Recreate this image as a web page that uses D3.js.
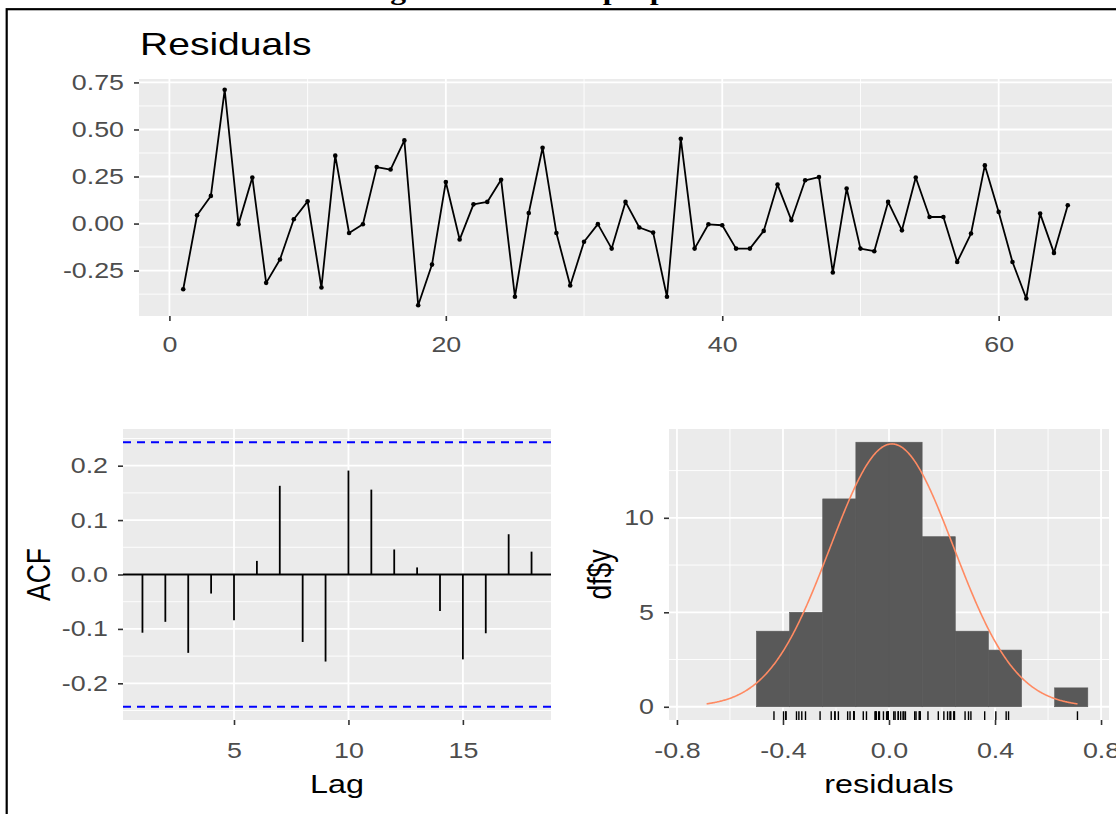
<!DOCTYPE html>
<html>
<head>
<meta charset="utf-8">
<script src="https://cdn.jsdelivr.net/npm/d3@7"></script>
<style>
  body { margin: 0; background: #fff; }
  text { font-family: "Liberation Sans", Arial, sans-serif; }
</style>
</head>
<body>
<svg width="1116" height="814"></svg>
<script>
(function() {

  // residual series, t = 1..65
  var residuals = [
    -0.349, 0.044, 0.147, 0.711, -0.003, 0.245, -0.315, -0.191, 0.023, 0.118,
    -0.340, 0.361, -0.050, -0.004, 0.300, 0.287, 0.442, -0.434, -0.218, 0.221,
    -0.085, 0.102, 0.115, 0.233, -0.389, 0.056, 0.403, -0.050, -0.329, -0.097,
    -0.003, -0.133, 0.115, -0.021, -0.048, -0.389, 0.451, -0.133, -0.004, -0.009,
    -0.133, -0.133, -0.039, 0.207, 0.018, 0.230, 0.247, -0.260, 0.186, -0.133,
    -0.147, 0.115, -0.036, 0.245, 0.035, 0.035, -0.204, -0.053, 0.309, 0.062,
    -0.204, -0.398, 0.053, -0.156, 0.097
  ];

  var acfLags = [1, 2, 3, 4, 5, 6, 7, 8, 9, 10, 11, 12, 13, 14, 15, 16, 17, 18];
  var acfValues = [
    -0.107, -0.087, -0.144, -0.035, -0.084, 0.025, 0.163, -0.124, -0.160,
    0.191, 0.156, 0.046, 0.013, -0.067, -0.156, -0.108, 0.074, 0.042
  ];

  var histBreaks = [-0.5, -0.375, -0.25, -0.125, 0, 0.125, 0.25, 0.375, 0.5, 0.625, 0.75];

  var topXTicks = [0, 20, 40, 60], topXMinor = [10, 30, 50];
  var topYTicks = [-0.25, 0, 0.25, 0.5, 0.75], topYMinor = [-0.375, -0.125, 0.125, 0.375, 0.625];
  var acfXTicks = [5, 10, 15];
  var acfYTicks = [-0.2, -0.1, 0, 0.1, 0.2], acfYMinor = [-0.25, -0.15, -0.05, 0.05, 0.15, 0.25];
  var histXTicks = [-0.8, -0.4, 0, 0.4, 0.8], histXMinor = [-0.6, -0.2, 0.2, 0.6];
  var histYTicks = [0, 5, 10], histYMinor = [2.5, 7.5, 12.5];

  var SX = 1.22;   // the picture is stretched sideways
  var n = residuals.length;

  var svg = d3.select("svg");

  // caption, cut off at the top edge (only descenders show)
  svg.append("text")
      .attr("transform", "translate(362,-0.5) scale(" + SX + ",1)")
      .attr("text-anchor", "start")
      .style("font-family", "'Liberation Serif', serif")
      .style("font-weight", "bold")
      .style("font-size", "26px")
      .text("Figure 9: Plots of proposed model");

  // frame
  svg.append("rect")
      .attr("x", 6.7).attr("y", 9.2)
      .attr("width", 1200).attr("height", 900)
      .attr("fill", "none")
      .attr("stroke", "#000")
      .attr("stroke-width", 2.2);

  function panel(x, y, xMajor, xMinor, yMajor, yMinor) {
    var g = svg.append("g");
    var x0 = x.range()[0], x1 = x.range()[1], y0 = y.range()[1], y1 = y.range()[0];
    g.append("rect")
        .attr("x", x0).attr("y", y0)
        .attr("width", x1 - x0).attr("height", y1 - y0)
        .attr("fill", "#ebebeb");
    g.selectAll(".hmin").data(yMinor).enter().append("line")
        .attr("x1", x0).attr("x2", x1)
        .attr("y1", function(d) { return y(d); }).attr("y2", function(d) { return y(d); })
        .attr("stroke", "#fff").attr("stroke-width", 0.9);
    g.selectAll(".vmin").data(xMinor).enter().append("line")
        .attr("y1", y0).attr("y2", y1)
        .attr("x1", function(d) { return x(d); }).attr("x2", function(d) { return x(d); })
        .attr("stroke", "#fff").attr("stroke-width", 0.9);
    g.selectAll(".hmaj").data(yMajor).enter().append("line")
        .attr("x1", x0).attr("x2", x1)
        .attr("y1", function(d) { return y(d); }).attr("y2", function(d) { return y(d); })
        .attr("stroke", "#fff").attr("stroke-width", 1.8);
    g.selectAll(".vmaj").data(xMajor).enter().append("line")
        .attr("y1", y0).attr("y2", y1)
        .attr("x1", function(d) { return x(d); }).attr("x2", function(d) { return x(d); })
        .attr("stroke", "#fff").attr("stroke-width", 1.8);
    return g;
  }

  function styleAxis(ax) {
    ax.select(".domain").remove();
    ax.selectAll(".tick line").attr("stroke", "#333").attr("stroke-width", 1.6);
    ax.selectAll(".tick text")
        .attr("fill", "#4d4d4d")
        .style("font-size", "22px");
  }

  function leftAxis(y, ticks, fmt, xPos) {
    var ax = svg.append("g")
        .attr("transform", "translate(" + xPos + ",0)")
        .call(d3.axisLeft(y).tickValues(ticks).tickSize(5).tickFormat(fmt));
    styleAxis(ax);
    ax.selectAll(".tick text")
        .attr("x", -15 / SX)
        .attr("transform", "scale(" + SX + ",1)");
  }

  function bottomAxis(x, ticks, fmt, yPos, off) {
    var ax = svg.append("g")
        .attr("transform", "translate(0," + yPos + ")")
        .call(d3.axisBottom(x).tickValues(ticks).tickSize(5).tickFormat(fmt));
    styleAxis(ax);
    ax.selectAll(".tick text")
        .attr("y", off)
        .attr("transform", "scale(" + SX + ",1)");
  }

  function label(txt, x, y, size, opts) {
    opts = opts || {};
    var t = svg.append("text")
        .attr("transform", "translate(" + x + "," + y + ") scale(" + SX + ",1)" + (opts.rotate ? " rotate(-90)" : ""))
        .attr("text-anchor", opts.anchor || "middle")
        .attr("fill", "#000")
        .style("font-size", size + "px")
        .text(txt);
    return t;
  }

  var f2 = function(d) { return d.toFixed(2); };
  var f1 = function(d) { return d.toFixed(1); };
  var f0 = function(d) { return String(d); };

  // ---------- top: residual series ----------
  var ext = d3.extent(residuals), pad = (ext[1] - ext[0]) * 0.05;
  var xTop = d3.scaleLinear().domain([1 - (n - 1) * 0.05, n + (n - 1) * 0.05]).range([139, 1112]);
  var yTop = d3.scaleLinear().domain([ext[0] - pad, ext[1] + pad]).range([316, 79]);

  var gTop = panel(xTop, yTop, topXTicks, topXMinor, topYTicks, topYMinor);
  var line = d3.line()
      .x(function(d, i) { return xTop(i + 1); })
      .y(function(d) { return yTop(d); });
  gTop.append("path")
      .datum(residuals)
      .attr("d", line)
      .attr("fill", "none")
      .attr("stroke", "#000")
      .attr("stroke-width", 1.8)
      .attr("stroke-linejoin", "round");
  gTop.selectAll(".pt").data(residuals).enter().append("circle")
      .attr("cx", function(d, i) { return xTop(i + 1); })
      .attr("cy", function(d) { return yTop(d); })
      .attr("r", 2.3)
      .attr("fill", "#000");

  leftAxis(yTop, topYTicks, f2, 139);
  bottomAxis(xTop, topXTicks, f0, 316, 20);
  label("Residuals", 140, 55, 32, { anchor: "start" });

  // ---------- bottom left: ACF ----------
  var ci = 1.96 / Math.sqrt(n);
  var acfLim = ci * 1.1;
  var xAcf = d3.scaleLinear().domain([1 - 17 * 0.05, 18 + 17 * 0.05]).range([123, 551]);
  var yAcf = d3.scaleLinear().domain([-acfLim, acfLim]).range([720, 429]);

  var gAcf = panel(xAcf, yAcf, acfXTicks, [], acfYTicks, acfYMinor);
  gAcf.append("line")
      .attr("x1", 123).attr("x2", 551)
      .attr("y1", yAcf(0)).attr("y2", yAcf(0))
      .attr("stroke", "#000").attr("stroke-width", 1.8);
  gAcf.selectAll(".seg").data(acfValues).enter().append("line")
      .attr("x1", function(d, i) { return xAcf(acfLags[i]); })
      .attr("x2", function(d, i) { return xAcf(acfLags[i]); })
      .attr("y1", yAcf(0))
      .attr("y2", function(d) { return yAcf(d); })
      .attr("stroke", "#000").attr("stroke-width", 1.8);
  gAcf.selectAll(".ci").data([ci, -ci]).enter().append("line")
      .attr("x1", 123).attr("x2", 551)
      .attr("y1", function(d) { return yAcf(d); })
      .attr("y2", function(d) { return yAcf(d); })
      .attr("stroke", "#0000ff").attr("stroke-width", 1.8)
      .attr("stroke-dasharray", "8,6");

  leftAxis(yAcf, acfYTicks, f1, 123);
  bottomAxis(xAcf, acfXTicks, f0, 720, 22);
  label("Lag", 337, 793, 26.5);
  label("ACF", 50, 574.5, 26.5, { rotate: true });

  // ---------- bottom right: histogram ----------
  var bins = d3.bin().domain([histBreaks[0], histBreaks[histBreaks.length - 1]])
      .thresholds(histBreaks.slice(1, -1))(residuals);
  var bw = histBreaks[1] - histBreaks[0];
  var m = d3.mean(residuals), sd = d3.deviation(residuals);
  var cMin = Math.min(m - 3 * sd, ext[0]), cMax = Math.max(m + 3 * sd, ext[1]);
  var curve = d3.range(0, 501).map(function(i) {
    var x = cMin + (cMax - cMin) * i / 500;
    var z = (x - m) / sd;
    return [x, n * bw * Math.exp(-0.5 * z * z) / (sd * Math.sqrt(2 * Math.PI))];
  });

  var xHist = d3.scaleLinear().domain([-0.83, 0.83]).range([669, 1109]);
  var yHist = d3.scaleLinear().domain([-0.7, 14.7]).range([720, 429]);

  var gHist = panel(xHist, yHist, histXTicks, histXMinor, histYTicks, histYMinor);
  gHist.selectAll(".bar").data(bins).enter().append("rect")
      .attr("x", function(d) { return xHist(d.x0); })
      .attr("width", function(d) { return xHist(d.x1) - xHist(d.x0); })
      .attr("y", function(d) { return yHist(d.length); })
      .attr("height", function(d) { return yHist(0) - yHist(d.length); })
      .attr("fill", "#595959")
      .attr("stroke", "#595959")
      .attr("stroke-width", 0.6);
  gHist.append("path")
      .datum(curve)
      .attr("d", d3.line()
        .x(function(d) { return xHist(d[0]); })
        .y(function(d) { return yHist(d[1]); }))
      .attr("fill", "none")
      .attr("stroke", "#ff8a62")
      .attr("stroke-width", 1.6);
  var rugLen = (720 - 429) * 0.03;
  gHist.selectAll(".rug").data(residuals).enter().append("line")
      .attr("x1", function(d) { return xHist(d); })
      .attr("x2", function(d) { return xHist(d); })
      .attr("y1", 720).attr("y2", 720 - rugLen)
      .attr("stroke", "#000").attr("stroke-width", 1.4);

  leftAxis(yHist, histYTicks, f0, 669);
  bottomAxis(xHist, histXTicks, f1, 720, 22);
  label("residuals", 889, 793, 26.5);
  label("df$y", 611, 574.5, 26.5, { rotate: true });

})();
</script>
</body>
</html>
